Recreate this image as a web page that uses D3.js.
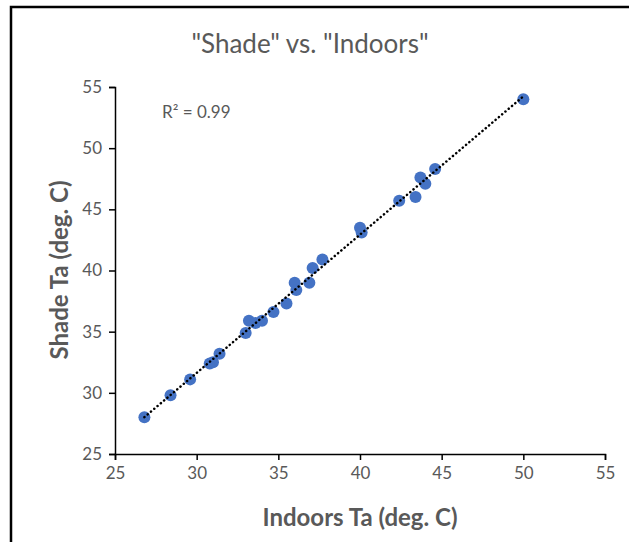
<!DOCTYPE html>
<html>
<head>
<meta charset="utf-8">
<script src="https://cdn.jsdelivr.net/npm/d3@7"></script>
<style>
  body { margin: 0; background: #fff; }
  svg { display: block; font-family: Lato, "Open Sans", sans-serif; }
</style>
</head>
<body>
<div id="chart"></div>
<script>
// Chart size and plot area
const width = 629;
const height = 542;
const margin = {left: 115, right: 24, top: 87, bottom: 88};

// Data
const indoors = [26.8, 28.4, 29.6, 30.8, 31.0, 31.4, 33.0, 33.2, 33.6, 34.0, 34.7, 35.5,
                 36.0, 36.1, 36.9, 37.1, 37.7, 40.0, 40.1, 42.4, 43.4, 43.7, 44.0, 44.6, 50.0];
const shade   = [28.0, 29.8, 31.1, 32.4, 32.5, 33.2, 34.9, 35.9, 35.7, 35.9, 36.6, 37.3,
                 39.0, 38.4, 39.0, 40.2, 40.9, 43.5, 43.1, 45.7, 46.0, 47.6, 47.1, 48.3, 54.0];
const xTicks = [25, 30, 35, 40, 45, 50, 55];
const yTicks = [25, 30, 35, 40, 45, 50, 55];

const points = indoors.map((d, i) => ({x: d, y: shade[i]}));

const svg = d3.select("#chart")
  .append("svg")
  .attr("width", width)
  .attr("height", height);

// frame round the picture (left and top edges are visible)
svg.append("path")
  .attr("d", `M11,${height} V7 H${width}`)
  .attr("fill", "none")
  .attr("stroke", "#000")
  .attr("stroke-width", 2.5);

const xScale = d3.scaleLinear()
  .domain([25, 55])
  .range([margin.left, width - margin.right]);

const yScale = d3.scaleLinear()
  .domain([25, 55])
  .range([height - margin.bottom, margin.top]);

// x axis
const xAxis = svg.append("g")
  .attr("transform", `translate(0,${height - margin.bottom})`)
  .call(d3.axisBottom(xScale).tickValues(xTicks).tickSize(6).tickPadding(7));

// y axis
const yAxis = svg.append("g")
  .attr("transform", `translate(${margin.left},0)`)
  .call(d3.axisLeft(yScale).tickValues(yTicks).tickSize(6).tickPadding(7));

[xAxis, yAxis].forEach(ax => {
  ax.select(".domain").attr("stroke", "#000").attr("stroke-width", 1.5);
  ax.selectAll(".tick line").attr("stroke", "#000").attr("stroke-width", 1.5);
  ax.selectAll(".tick text")
    .attr("fill", "#595959")
    .attr("font-size", "17px")
    .attr("font-family", "Lato, sans-serif");
});

// linear trendline, fitted by least squares
const mx = d3.mean(points, d => d.x);
const my = d3.mean(points, d => d.y);
const slope = d3.sum(points, d => (d.x - mx) * (d.y - my)) / d3.sum(points, d => (d.x - mx) ** 2);
const intercept = my - slope * mx;
const xExt = d3.extent(points, d => d.x);

// dots
svg.selectAll(".dot")
  .data(points)
  .enter()
  .append("circle")
    .attr("class", "dot")
    .attr("cx", d => xScale(d.x))
    .attr("cy", d => yScale(d.y))
    .attr("r", 6)
    .attr("fill", "#4472C4");

svg.append("line")
  .attr("x1", xScale(xExt[0]))
  .attr("y1", yScale(intercept + slope * xExt[0]))
  .attr("x2", xScale(xExt[1]))
  .attr("y2", yScale(intercept + slope * xExt[1]))
  .attr("stroke", "#000")
  .attr("stroke-width", 2.5)
  .attr("stroke-linecap", "round")
  .attr("stroke-dasharray", "0.1 4.2");

// R squared label
svg.append("text")
  .attr("x", 162)
  .attr("y", 118)
  .attr("fill", "#595959")
  .attr("font-size", "17px")
  .text("R² = 0.99");

// title
svg.append("text")
  .attr("x", 310)
  .attr("y", 53)
  .attr("text-anchor", "middle")
  .attr("fill", "#595959")
  .attr("font-size", "26px")
  .text('"Shade" vs. "Indoors"');

// axis titles
svg.append("text")
  .attr("x", 360)
  .attr("y", 526)
  .attr("text-anchor", "middle")
  .attr("fill", "#595959")
  .attr("font-size", "24px")
  .attr("font-weight", "bold")
  .text("Indoors Ta (deg. C)");

svg.append("text")
  .attr("transform", "translate(68,270) rotate(-90)")
  .attr("text-anchor", "middle")
  .attr("fill", "#595959")
  .attr("font-size", "24px")
  .attr("font-weight", "bold")
  .text("Shade Ta (deg. C)");
</script>
</body>
</html>
